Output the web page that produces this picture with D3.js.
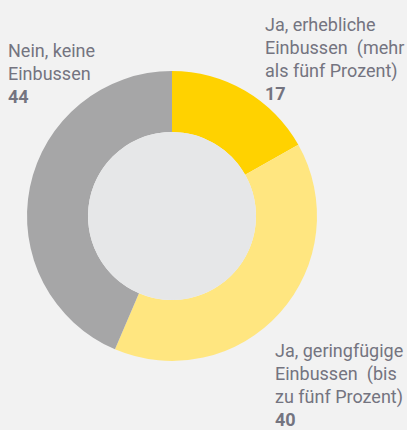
<!DOCTYPE html>
<html>
<head>
<meta charset="utf-8">
<script src="https://cdn.jsdelivr.net/npm/d3@7"></script>
<style>
  body { margin: 0; background: #f2f2f2; }
  svg { display: block; }
  text { font-family: Roboto, "Noto Sans", sans-serif; font-size: 18px; fill: #747480; }
</style>
</head>
<body>
<script>
// Data
const categories = ["Ja, erhebliche Einbussen (mehr als fünf Prozent)",
                    "Ja, geringfügige Einbussen (bis zu fünf Prozent)",
                    "Nein, keine Einbussen"];
const values = [17, 40, 44];
const labelLines = [
    ["Ja, erhebliche", "Einbussen\u2002(mehr", "als fünf Prozent)"],
    ["Ja, geringfügige", "Einbussen\u2002(bis", "zu fünf Prozent)"],
    ["Nein, keine", "Einbussen"]
];
const colors = ["#ffd200", "#ffe680", "#a6a6a7"];

const w = 407;
const h = 430;
const cx = 172, cy = 216;
const outerR = 145, innerR = 84;

const svg = d3.select("body")
    .append("svg")
    .attr("width", w)
    .attr("height", h);

svg.append("rect")
    .attr("width", w)
    .attr("height", h)
    .attr("fill", "#f2f2f2");

const g = svg.append("g")
    .attr("transform", `translate(${cx},${cy})`);

// Pie
const pie = d3.pie().sort(null).value(d => d);
const arc = d3.arc().innerRadius(innerR).outerRadius(outerR);

g.selectAll("path")
    .data(pie(values))
    .enter()
    .append("path")
    .attr("d", arc)
    .attr("fill", (d, i) => colors[i]);

// inner disc
g.append("circle")
    .attr("r", innerR)
    .attr("fill", "#e6e7e8");

// Labels: position of the first baseline and x
const labelPos = [
    { x: 265, y: 31 },
    { x: 275, y: 357 },
    { x: 8, y: 57 }
];
const lineH = 23;

labelLines.forEach(function (lines, i) {
    const t = svg.append("text")
        .attr("x", labelPos[i].x)
        .attr("y", labelPos[i].y);
    lines.forEach(function (l, j) {
        t.append("tspan")
            .attr("x", labelPos[i].x)
            .attr("y", labelPos[i].y + j * lineH)
            .text(l);
    });
    t.append("tspan")
        .attr("x", labelPos[i].x)
        .attr("y", labelPos[i].y + lines.length * lineH)
        .attr("font-weight", "bold")
        .text(values[i]);
});
</script>
</body>
</html>
